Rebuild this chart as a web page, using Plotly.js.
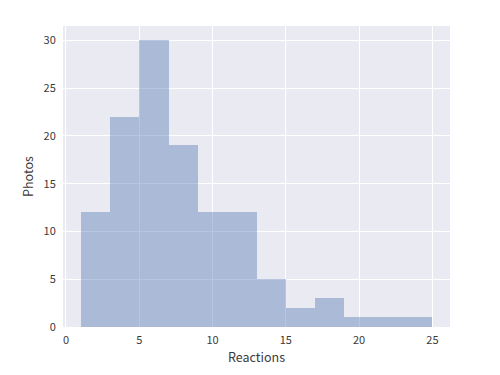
<!DOCTYPE html>
<html><head><meta charset="utf-8">
<script src="https://cdn.plot.ly/plotly-3.0.1.min.js"></script>
<style>body{margin:0;padding:0;background:#fff}#chart{width:500px;height:375px}</style>
</head><body><div id="chart"></div>
<script>
const binStarts = [1, 3, 5, 7, 9, 11, 13, 15, 17, 19, 21, 23];
const binWidth = 2;
const counts = [12, 22, 30, 19, 12, 12, 5, 2, 3, 1, 1, 1];
const xTicks = [0, 5, 10, 15, 20, 25];
const yTicks = [0, 5, 10, 15, 20, 25, 30];

const fontFam = '"Noto Sans CJK KR", "Noto Sans", sans-serif';
const trace = {
  type: 'bar',
  x: binStarts,
  y: counts,
  width: binStarts.map(() => binWidth),
  offset: 0,
  marker: {color: 'rgba(76,114,176,0.4)', line: {width: 0}},
  hoverinfo: 'x+y'
};
const layout = {
  width: 500, height: 375,
  margin: {l: 63, r: 50, t: 26, b: 48},
  paper_bgcolor: '#ffffff',
  plot_bgcolor: '#eaeaf2',
  showlegend: false,
  bargap: 0,
  font: {family: fontFam, size: 11, color: '#3a3a3a'},
  xaxis: {
    range: [-0.2, 26.2],
    tickvals: xTicks,
    ticktext: xTicks.map(String),
    gridcolor: '#ffffff', gridwidth: 1,
    zeroline: false, showline: false,
    ticks: 'outside', ticklen: 3, tickcolor: 'rgba(0,0,0,0)',
    title: {text: 'Reactions', font: {size: 12.5, color: '#3a3a3a'}, standoff: 6}
  },
  yaxis: {
    range: [0, 31.5],
    tickvals: yTicks,
    ticktext: yTicks.map(String),
    gridcolor: '#ffffff', gridwidth: 1,
    zeroline: false, showline: false,
    ticks: 'outside', ticklen: 4, tickcolor: 'rgba(0,0,0,0)',
    title: {text: 'Photos', font: {size: 12.5, color: '#3a3a3a'}, standoff: 7}
  }
};
Plotly.newPlot('chart', [trace], layout, {displayModeBar: false, staticPlot: true});
</script></body></html>
